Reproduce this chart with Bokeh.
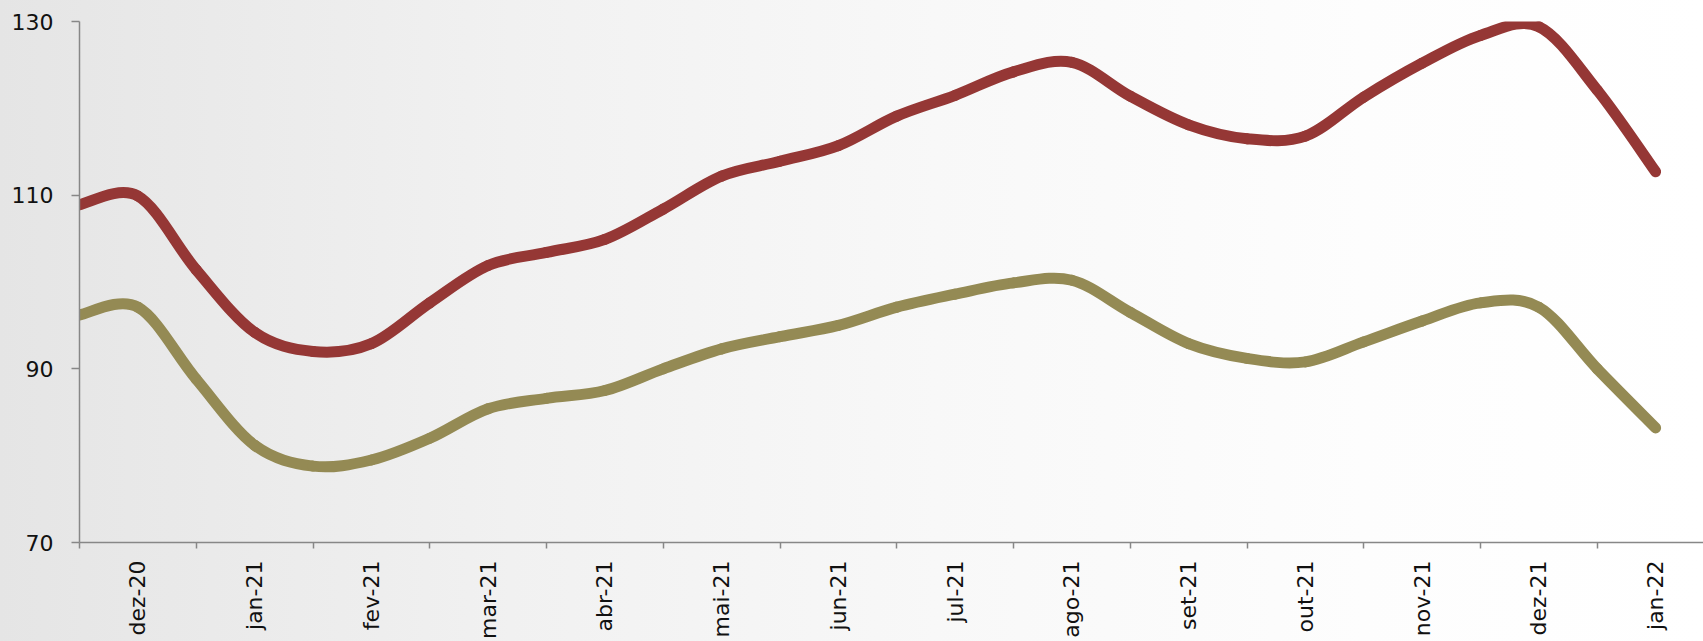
import numpy as np
from bokeh.plotting import figure
from bokeh.models import ColumnDataSource, FixedTicker, Range1d, LinearAxis
from bokeh.embed import file_html
from bokeh.resources import INLINE

# ---- data (two observations per month; labels on every second point) ----
month_labels = ["dez-20", "jan-21", "fev-21", "mar-21", "abr-21", "mai-21", "jun-21",
                "jul-21", "ago-21", "set-21", "out-21", "nov-21", "dez-21", "jan-22"]

serie_vermelha = [108.9, 109.9, 101.4, 94.2, 92.0, 92.9, 97.6, 101.9, 103.4, 104.9,
                  108.4, 112.2, 113.9, 115.7, 119.1, 121.5, 124.2, 125.3, 121.4, 118.1,
                  116.5, 116.8, 121.3, 125.2, 128.4, 129.4, 122.1, 112.7]

serie_oliva = [96.2, 97.1, 88.8, 81.2, 78.8, 79.5, 82.0, 85.4, 86.6, 87.5,
               90.0, 92.3, 93.7, 95.0, 97.1, 98.6, 99.9, 100.2, 96.5, 92.9,
               91.2, 90.8, 93.1, 95.5, 97.6, 97.1, 90.0, 83.2]

y_ticks = [70, 90, 110, 130]

# ---- helpers ----
def smooth_segments(values):
    """Bezier segments through the data points (Excel-style smoothed line)."""
    y = np.asarray(values, dtype=float)
    x = np.arange(len(y), dtype=float)
    n = len(y)
    xp = np.concatenate([[x[0]], x, [x[-1]]])
    yp = np.concatenate([[y[0]], y, [y[-1]]])
    x0, y0 = x[:-1], y[:-1]
    x1, y1 = x[1:], y[1:]
    cx0 = x0 + (xp[2:n + 1] - xp[0:n - 1]) / 6.0
    cy0 = y0 + (yp[2:n + 1] - yp[0:n - 1]) / 6.0
    cx1 = x1 - (xp[3:n + 2] - xp[1:n]) / 6.0
    cy1 = y1 - (yp[3:n + 2] - yp[1:n]) / 6.0
    return ColumnDataSource(dict(x0=x0, y0=y0, x1=x1, y1=y1,
                                 cx0=cx0, cy0=cy0, cx1=cx1, cy1=cy1))

label_pos = [2 * i + 1 for i in range(len(month_labels))]
tick_pos = [2 * i for i in range(len(month_labels) + 1)]

FONT = "DejaVu Sans"
AXIS_COLOR = "#878787"

p = figure(width=1703, height=641, output_backend="svg", toolbar_location=None,
           x_range=Range1d(0, 27.82), y_range=Range1d(70, 130),
           x_axis_location=None, y_axis_location=None,
           min_border_left=79, min_border_top=21, min_border_right=0, min_border_bottom=0)

p.styles = {"background-image":
            "linear-gradient(to right, #e5e5e5 0%, #f1f1f1 30%, #f8f8f8 55%, #fdfdfd 80%, #ffffff 100%)"}
p.border_fill_color = None
p.background_fill_color = None
p.outline_line_color = None
p.xgrid.visible = False
p.ygrid.visible = False

for vals, color in [(serie_oliva, "#948A54"), (serie_vermelha, "#953735")]:
    src = smooth_segments(vals)
    p.bezier(x0="x0", y0="y0", x1="x1", y1="y1", cx0="cx0", cy0="cy0",
             cx1="cx1", cy1="cy1", source=src, line_color=color,
             line_width=11, line_cap="round")

yaxis = LinearAxis(
    ticker=FixedTicker(ticks=y_ticks, minor_ticks=[]),
    axis_line_color=AXIS_COLOR, axis_line_width=1.5,
    major_tick_line_color=AXIS_COLOR, major_tick_line_width=1.5,
    major_tick_out=8, major_tick_in=0, minor_tick_line_color=None,
    major_label_standoff=18,
    major_label_text_font=FONT, major_label_text_font_size="22px",
    major_label_text_color="#111111",
)
p.add_layout(yaxis, "left")

xaxis = LinearAxis(
    ticker=FixedTicker(ticks=label_pos, minor_ticks=tick_pos),
    major_label_overrides={pos: lab for pos, lab in zip(label_pos, month_labels)},
    major_label_orientation=np.pi / 2,
    axis_line_color=AXIS_COLOR, axis_line_width=1.5,
    major_tick_line_color=None, major_tick_out=0, major_tick_in=0,
    minor_tick_line_color=AXIS_COLOR, minor_tick_line_width=1.5,
    minor_tick_out=6, minor_tick_in=0,
    major_label_standoff=12,
    major_label_text_font=FONT, major_label_text_font_size="22px",
    major_label_text_color="#111111",
)
p.add_layout(xaxis, "below")

open("out.html", "w").write(file_html(p, INLINE))
